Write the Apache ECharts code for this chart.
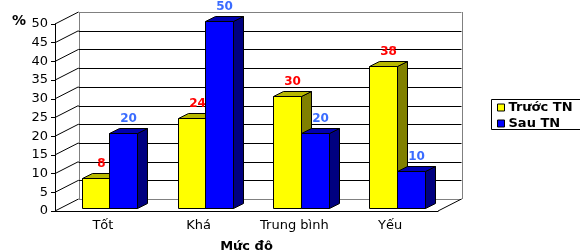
<!DOCTYPE html>
<html>
<head>
<meta charset="utf-8">
<script src="https://cdn.jsdelivr.net/npm/echarts@6/dist/echarts.min.js"></script>
<style>
  html, body { margin: 0; padding: 0; background: #fff; }
  #chart { width: 580px; height: 251px; }
</style>
</head>
<body>
<div id="chart"></div>
<script>
// data
const categories = ['Tốt', 'Khá', 'Trung bình', 'Yếu'];
const truocTN = [8, 24, 30, 38];
const sauTN = [20, 50, 20, 10];
const yTicks = [0, 5, 10, 15, 20, 25, 30, 35, 40, 45, 50];
const Y_MAX = 50;

// 3D look (pixels)
const WALL = [23.5, -12];
const BAR_SHIFT = [6.5, -3];
const BAR_DEPTH = [10, -5];
const BAR_RATIO = 0.287;
const FONT = 'DejaVu Sans';

const faces = [
  { front: '#ffff00', top: '#b8b800', side: '#808000', label: '#ff0000' },
  { front: '#0000ff', top: '#0000b0', side: '#000080', label: '#3a6cff' }
];

function crisp(v) {
  return Math.round(v) + 0.5;
}

// walls + gridlines, one item per tick value
function renderWall(params, api) {
  const v = api.value(1);
  const bw = api.size([1, 0])[0];
  const p = api.coord([0, v]);
  const x0 = p[0] - bw / 2;
  const x1 = api.coord([categories.length - 1, v])[0] + bw / 2;
  const y = p[1];
  const top = api.coord([0, Y_MAX])[1];
  const bottom = api.coord([0, 0])[1];
  const edge = v === 0 || v === Y_MAX;
  const children = [
    {
      type: 'line',
      shape: { x1: x0, y1: y, x2: x0 + WALL[0], y2: y + WALL[1] },
      style: { stroke: '#000', lineWidth: 1 }
    },
    {
      type: 'line',
      shape: { x1: x0 + WALL[0], y1: crisp(y + WALL[1]), x2: x1 + WALL[0], y2: crisp(y + WALL[1]) },
      style: { stroke: edge ? '#808080' : '#000', lineWidth: 1 }
    }
  ];
  if (params.dataIndex === 0) {
    children.push(
      {
        type: 'line',
        shape: { x1: crisp(x0 + WALL[0]), y1: top + WALL[1], x2: crisp(x0 + WALL[0]), y2: bottom + WALL[1] },
        style: { stroke: '#808080', lineWidth: 1 }
      },
      {
        type: 'line',
        shape: { x1: crisp(x1 + WALL[0]), y1: top + WALL[1], x2: crisp(x1 + WALL[0]), y2: bottom + WALL[1] },
        style: { stroke: '#808080', lineWidth: 1 }
      },
      {
        type: 'line',
        shape: { x1: x1, y1: bottom, x2: x1 + WALL[0], y2: bottom + WALL[1] },
        style: { stroke: '#000', lineWidth: 1 }
      }
    );
  }
  return { type: 'group', children };
}

function barRenderer(k) {
  const f = faces[k];
  return function (params, api) {
    const idx = api.value(0);
    const val = api.value(1);
    const bw = api.size([1, 0])[0];
    const w = bw * BAR_RATIO;
    const c = api.coord([idx, val]);
    const b = api.coord([idx, 0]);
    const x = Math.round(c[0] + BAR_SHIFT[0] + (k === 0 ? -w : 0)) + 0.5;
    const xr = Math.round(x + w) + 0.5;
    const yt = Math.round(c[1] + BAR_SHIFT[1]) + 0.5;
    const yb = Math.round(b[1] + BAR_SHIFT[1]) + 0.5;
    const dx = BAR_DEPTH[0], dy = BAR_DEPTH[1];
    const line = { stroke: '#000', lineWidth: 1 };
    return {
      type: 'group',
      children: [
        {
          type: 'polygon',
          shape: { points: [[xr, yt], [xr + dx, yt + dy], [xr + dx, yb + dy], [xr, yb]] },
          style: Object.assign({ fill: f.side }, line)
        },
        {
          type: 'polygon',
          shape: { points: [[x, yt], [x + dx, yt + dy], [xr + dx, yt + dy], [xr, yt]] },
          style: Object.assign({ fill: f.top }, line)
        },
        {
          type: 'rect',
          shape: { x: x, y: yt, width: xr - x, height: yb - yt },
          style: Object.assign({ fill: f.front }, line)
        },
        {
          type: 'text',
          style: {
            text: String(val),
            x: (x + xr) / 2 + dx / 2,
            y: yt - 15,
            fill: f.label,
            font: 'bold 12px "' + FONT + '"',
            align: 'center',
            verticalAlign: 'middle'
          }
        }
      ]
    };
  };
}

const chart = echarts.init(document.getElementById('chart'));

const option = {
  animation: false,
  backgroundColor: '#fff',
  textStyle: { fontFamily: FONT },
  title: {
    text: '%',
    left: 7,
    top: 9,
    textStyle: { fontSize: 14, fontWeight: 'bold', color: '#000', fontFamily: FONT }
  },
  // legend frame runs past the right edge, as in the source image
  graphic: [
    {
      type: 'rect',
      left: 491,
      top: 99,
      shape: { width: 100, height: 30 },
      style: { fill: '#fff', stroke: '#000', lineWidth: 1 },
      z: 0
    }
  ],
  legend: {
    data: ['Trước TN', 'Sau TN'],
    orient: 'vertical',
    left: 492,
    top: 99,
    padding: [2, 4, 2, 5],
    itemGap: 3,
    itemWidth: 7,
    itemHeight: 7,
    icon: 'rect',
    itemStyle: { borderColor: '#000', borderWidth: 1 },
    textStyle: { fontSize: 13, fontWeight: 'bold', color: '#000', fontFamily: FONT, lineHeight: 12, padding: [0, 0, 0, -1] }
  },
  grid: { left: 55, top: 24, width: 383, height: 187, outerBoundsMode: 'none', containLabel: false },
  xAxis: {
    type: 'category',
    data: categories,
    name: 'Mức độ',
    nameLocation: 'middle',
    nameGap: 29,
    nameTextStyle: { fontSize: 13, fontWeight: 'bold', color: '#000', fontFamily: FONT },
    axisLine: { lineStyle: { color: '#000', width: 1 } },
    axisTick: { length: 4, lineStyle: { color: '#000' } },
    axisLabel: { fontSize: 13, color: '#000', margin: 8, fontFamily: FONT },
    splitLine: { show: false }
  },
  yAxis: {
    type: 'value',
    min: 0,
    max: Y_MAX,
    interval: 5,
    axisLine: { show: true, lineStyle: { color: '#000', width: 1 } },
    axisTick: { show: true, length: 4, lineStyle: { color: '#000' } },
    axisLabel: { fontSize: 13, color: '#000', margin: 7, fontFamily: FONT },
    splitLine: { show: false }
  },
  series: [
    {
      type: 'custom',
      name: 'walls',
      z: 1,
      silent: true,
      renderItem: renderWall,
      data: yTicks.map(v => [0, v])
    },
    {
      type: 'custom',
      name: 'Trước TN',
      z: 2,
      itemStyle: { color: faces[0].front },
      renderItem: barRenderer(0),
      data: truocTN.map((v, i) => [i, v])
    },
    {
      type: 'custom',
      name: 'Sau TN',
      z: 3,
      itemStyle: { color: faces[1].front },
      renderItem: barRenderer(1),
      data: sauTN.map((v, i) => [i, v])
    }
  ]
};

chart.setOption(option);
</script>
</body>
</html>
